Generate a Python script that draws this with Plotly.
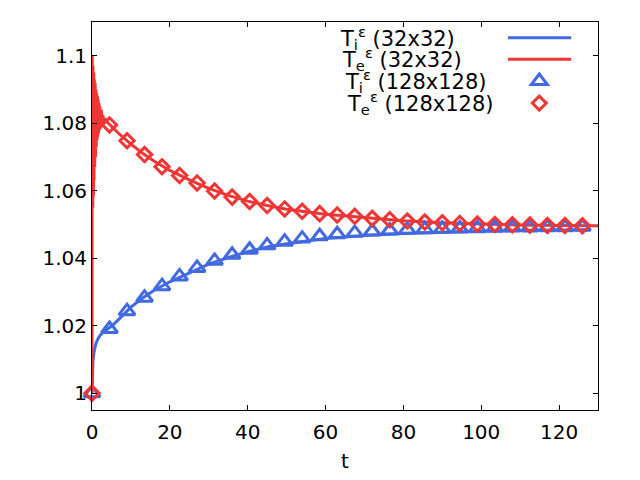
import plotly.graph_objects as go

#?--------------------------------------------------------------------------
#?  Data
#?--------------------------------------------------------------------------
# T_e^eps, 32x32 : oscillating start, then smooth relaxation
t_e32 = [0, 0.05, 0.1, 0.15, 0.2, 0.25, 0.3, 0.35, 0.4, 0.45, 0.5, 0.6, 0.7, 0.8, 0.9,
         1.0, 1.1, 1.2, 1.3, 1.4, 1.5, 1.6, 1.7, 1.8, 1.9, 2.0, 2.2, 2.4, 2.6, 2.8, 3.0,
         3.3, 3.6, 4.0, 5, 7, 10, 13, 16, 20, 25, 30, 35, 40, 45, 50, 60, 70, 80, 90,
         100, 110, 120, 130]
Te_32 = [1.000, 1.100, 1.052, 1.098, 1.055, 1.097, 1.058, 1.096, 1.060, 1.095, 1.063,
         1.093, 1.067, 1.092, 1.070, 1.090, 1.073, 1.089, 1.075, 1.088, 1.076, 1.087,
         1.077, 1.086, 1.078, 1.085, 1.0785, 1.084, 1.0795, 1.0825, 1.080, 1.0815,
         1.0805, 1.0802, 1.0790, 1.0768, 1.0738, 1.0711, 1.0687, 1.0660, 1.0632,
         1.0607, 1.0586, 1.0569, 1.0556, 1.0545, 1.0530, 1.0520, 1.0511, 1.0505,
         1.0501, 1.0498, 1.0497, 1.0496]

# T_i^eps, 32x32
t_i32 = [0, 0.1, 0.25, 0.5, 0.75, 1, 1.5, 2, 3, 4, 5, 7, 10, 13, 16, 20, 25, 30, 35,
         40, 45, 50, 60, 70, 80, 90, 100, 110, 120, 128]
Ti_32 = [1.000, 1.006, 1.0095, 1.012, 1.0135, 1.0147, 1.016, 1.017, 1.0182, 1.0190,
         1.0198, 1.0220, 1.0255, 1.0282, 1.0305, 1.0330, 1.0357, 1.0382, 1.0402,
         1.0419, 1.0433, 1.0443, 1.0458, 1.0467, 1.0473, 1.0477, 1.0480, 1.0482,
         1.0483, 1.0484]

# 128x128 runs, sampled every 4.5
t_128 = [0, 4.5, 9, 13.5, 18, 22.5, 27, 31.5, 36, 40.5, 45, 49.5, 54, 58.5, 63, 67.5,
         72, 76.5, 81, 85.5, 90, 94.5, 99, 103.5, 108, 112.5, 117, 121.5, 126]
Ti_128 = [1.0000, 1.0190, 1.0243, 1.0283, 1.0317, 1.0346, 1.0371, 1.0392, 1.0410,
          1.0425, 1.0438, 1.0449, 1.0458, 1.0465, 1.0471, 1.0475, 1.0479, 1.0482,
          1.0484, 1.0486, 1.0487, 1.0488, 1.0489, 1.0490, 1.0491, 1.0491, 1.0492,
          1.0492, 1.0493]
Te_128 = [1.0000, 1.0795, 1.0748, 1.0707, 1.0671, 1.0645, 1.0623, 1.0599, 1.0581,
          1.0568, 1.0556, 1.0546, 1.0539, 1.0532, 1.0528, 1.0524, 1.0518, 1.0514,
          1.0510, 1.0507, 1.0505, 1.0503, 1.0501, 1.0500, 1.0499, 1.0498, 1.0497,
          1.0497, 1.0496]

x_ticks = [0, 20, 40, 60, 80, 100, 120]
y_ticks = [1.0, 1.02, 1.04, 1.06, 1.08, 1.1]
y_labels = ["1", "1.02", "1.04", "1.06", "1.08", "1.1"]

BLUE, RED = "#4169E1", "#F03535"
FONT = "DejaVu Sans"

#?--------------------------------------------------------------------------
#?  Figure
#?--------------------------------------------------------------------------
fig = go.Figure()
fig.add_trace(go.Scatter(x=t_i32, y=Ti_32, mode="lines", line=dict(color=BLUE, width=3)))
fig.add_trace(go.Scatter(x=t_e32, y=Te_32, mode="lines", line=dict(color=RED, width=3)))
fig.add_trace(go.Scatter(x=t_128, y=Ti_128, mode="markers", cliponaxis=False,
                         marker=dict(symbol="triangle-up-open", size=14, color=BLUE,
                                     line=dict(color=BLUE, width=3))))
fig.add_trace(go.Scatter(x=t_128, y=Te_128, mode="markers", cliponaxis=False,
                         marker=dict(symbol="diamond-open", size=11, color=RED,
                                     line=dict(color=RED, width=3))))

# gnuplot-style key: text first, sample after
key_text = ["T<sub>i</sub><sup>ε</sup> (32x32)", "T<sub>e</sub><sup>ε</sup> (32x32)",
            "T<sub>i</sub><sup>ε</sup> (128x128)", "T<sub>e</sub><sup>ε</sup> (128x128)"]
key_x = [0.486, 0.490, 0.496, 0.500]
key_y = [0.9595, 0.904, 0.848, 0.791]
for txt, kx, ky in zip(key_text, key_x, key_y):
    fig.add_annotation(x=kx, y=ky, xref="paper", yref="paper", text=txt, showarrow=False,
                       xanchor="left", yanchor="middle", font=dict(family=FONT, size=21, color="black"))

fig.add_shape(type="line", xref="paper", yref="paper", x0=0.822, x1=0.947, y0=key_y[0], y1=key_y[0],
              line=dict(color=BLUE, width=3))
fig.add_shape(type="line", xref="paper", yref="paper", x0=0.822, x1=0.947, y0=key_y[1], y1=key_y[1],
              line=dict(color=RED, width=3))
fig.add_shape(type="path", xref="paper", yref="paper", xsizemode="pixel", ysizemode="pixel",
              xanchor=0.884, yanchor=key_y[2], path="M-8,-3.5 L8,-3.5 L0,7 Z",
              line=dict(color=BLUE, width=3))
fig.add_shape(type="path", xref="paper", yref="paper", xsizemode="pixel", ysizemode="pixel",
              xanchor=0.884, yanchor=key_y[3], path="M-7,0 L0,7 L7,0 L0,-7 Z",
              line=dict(color=RED, width=3))

axis_common = dict(showline=True, linecolor="black", linewidth=1, mirror="allticks",
                   ticks="inside", ticklen=5, tickcolor="black", showgrid=False, zeroline=False,
                   tickfont=dict(family=FONT, size=20, color="black"))
fig.update_xaxes(range=[0, 130], tickvals=x_ticks, ticklabelstandoff=4,
                 title=dict(text="t", font=dict(family=FONT, size=20, color="black"), standoff=10),
                 **axis_common)
fig.update_yaxes(range=[0.995, 1.11], tickvals=y_ticks, ticktext=y_labels, ticklabelstandoff=0,
                 **axis_common)

# page body adds 8px on top/left, so the margins are trimmed by that much
fig.update_layout(width=640, height=480, showlegend=False,
                  paper_bgcolor="white", plot_bgcolor="white",
                  margin=dict(l=84, r=50, t=14, b=78),
                  font=dict(family=FONT, size=20, color="black"))

fig.write_html("out.html")
